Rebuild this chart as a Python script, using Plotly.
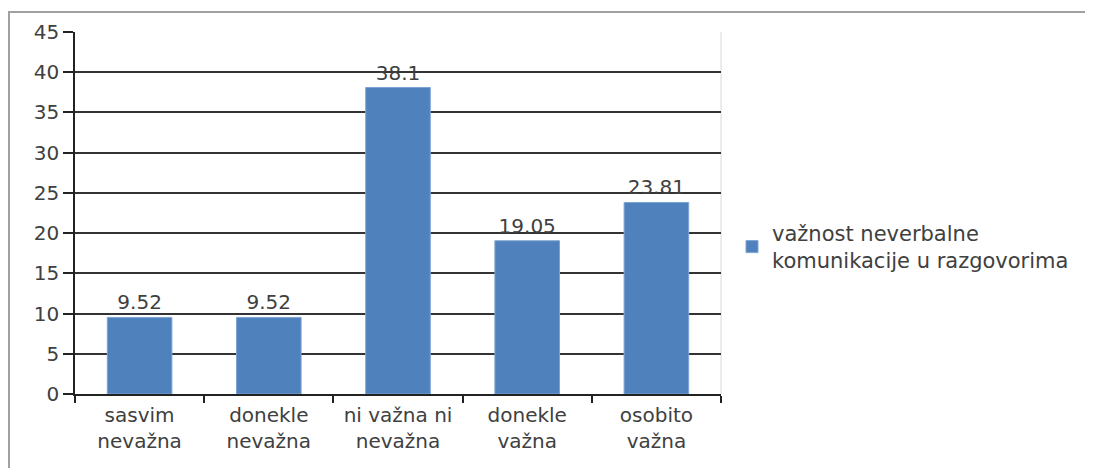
import plotly.graph_objects as go

categories = ["sasvim<br>nevažna", "donekle<br>nevažna", "ni važna ni<br>nevažna", "donekle<br>važna", "osobito<br>važna"]
values = [9.52, 9.52, 38.1, 19.05, 23.81]
series_name = "važnost neverbalne<br>komunikacije u razgovorima"
y_ticks = [0, 5, 10, 15, 20, 25, 30, 35, 40, 45]

OFF = 8  # page body margin offset
W, H = 1093 - OFF, 468 - OFF
L, R, T, B = 75 - OFF, 721 - OFF, 30 - OFF, 394 - OFF
pw, ph = R - L, B - T

def px_x(x):
    return (x - OFF - L) / pw

def px_y(y):
    return (B - (y - OFF)) / ph

FONT = "DejaVu Sans"
TXT = "#404040"

fig = go.Figure()
fig.add_trace(go.Bar(
    x=categories, y=values, name=series_name,
    marker=dict(color="#4F81BD", line=dict(color="#7ea3d3", width=1)),
    width=0.5,
    text=[str(v) for v in values], textposition="outside",
    textfont=dict(family=FONT, size=20, color=TXT),
    cliponaxis=False,
    showlegend=True,
))

fig.update_layout(
    width=W, height=H,
    margin=dict(l=L, r=W - R, t=T, b=H - B, pad=0),
    paper_bgcolor="white", plot_bgcolor="white",
    font=dict(family=FONT, color=TXT),
    showlegend=True,
    legend=dict(
        x=px_x(732), xanchor="left", y=px_y(246), yanchor="middle",
        font=dict(family=FONT, size=21, color=TXT),
        bgcolor="rgba(0,0,0,0)", valign="middle",
    ),
    bargap=0.5,
)

fig.update_yaxes(
    range=[0, 45], tickvals=y_ticks, ticktext=[str(t) for t in y_ticks],
    showgrid=True, gridcolor="#333333", gridwidth=1.5,
    showline=True, linecolor="#222222", linewidth=1.5,
    ticks="outside", ticklen=10, tickcolor="#222222", tickwidth=1.5,
    tickfont=dict(family=FONT, size=20, color=TXT),
    zeroline=False, fixedrange=True,
)
fig.update_xaxes(
    showline=True, linecolor="#222222", linewidth=1.5,
    ticks="outside", tickson="boundaries", ticklen=7, tickcolor="#222222", tickwidth=1.5,
    tickfont=dict(family=FONT, size=20, color=TXT),
    ticklabelstandoff=2,
    showgrid=False,
)

# outer chart border
fig.add_shape(type="rect", xref="paper", yref="paper",
              x0=px_x(9), x1=px_x(1200), y0=px_y(600), y1=px_y(10),
              line=dict(color="#a0a0a0", width=2), layer="below")
# light right border of plot area
fig.add_shape(type="line", xref="paper", yref="paper",
              x0=1, x1=1, y0=0, y1=1,
              line=dict(color="#d9d9d9", width=1), layer="below")

fig.write_html("out.html")
